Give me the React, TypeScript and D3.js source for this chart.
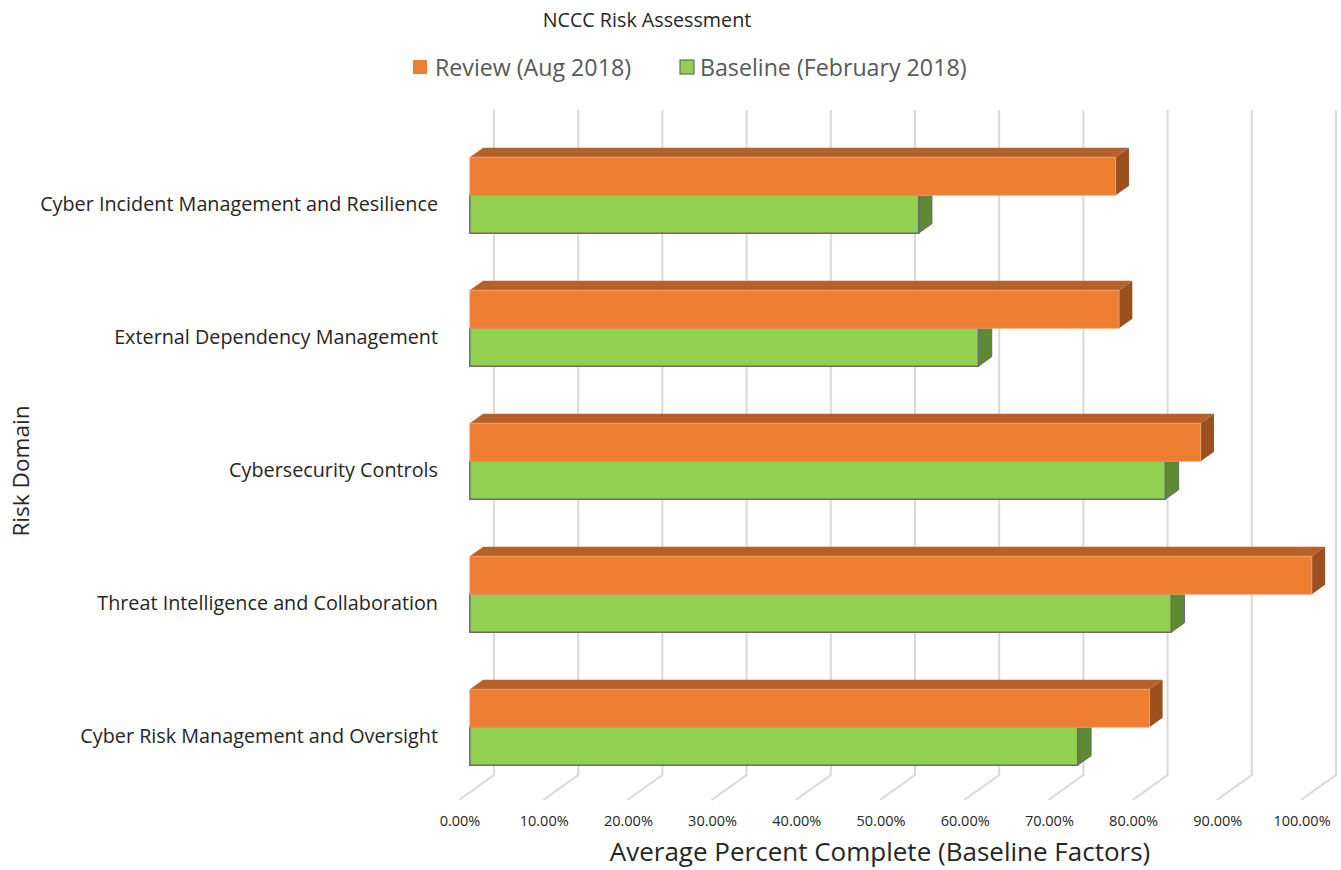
import React from "react";
import * as d3 from "d3";

const categories = [
  "Cyber Incident Management and Resilience",
  "External Dependency Management",
  "Cybersecurity Controls",
  "Threat Intelligence and Collaboration",
  "Cyber Risk Management and Oversight",
];
const reviewValues = [0.767, 0.771, 0.868, 1.0, 0.807];
const baselineValues = [0.533, 0.604, 0.826, 0.833, 0.722];
const seriesNames = ["Review (Aug 2018)", "Baseline (February 2018)"];
const tickValues = [0, 0.1, 0.2, 0.3, 0.4, 0.5, 0.6, 0.7, 0.8, 0.9, 1.0];

const W = 1341;
const H = 870;
const FONT = "'Open Sans', sans-serif";

// oblique 3D depth vector (front floor -> back wall)
const DX = 35;
const DY = -25;
const BAR_FRONT = 0.31;
const BAR_DEPTH = 0.38;

const COLORS = {
  review: { front: "#ED7D31", top: "#B8602A", side: "#9C501F", stroke: "#F4A36C" },
  baseline: { front: "#92D050", top: "#6E9A3C", side: "#5E8A34", stroke: "#6B6B6B" },
};

export default function App() {
  const x = d3.scaleLinear().domain([0, 1]).range([459, 1301]);
  const y = d3.scaleBand<string>().domain(categories).range([135, 800]).paddingInner(0);
  const sub = d3.scaleBand<string>().domain(["review", "baseline"]).range([30, 106]);

  const fx = DX * BAR_FRONT;
  const fy = DY * BAR_FRONT;
  const dx = DX * BAR_DEPTH;
  const dy = DY * BAR_DEPTH;

  const floorBackY = 775;
  const floorFrontY = 800;
  const wallTopY = 110;

  const bar = (key: "review" | "baseline", cat: string, v: number) => {
    const c = COLORS[key];
    const x0 = x(0) + fx;
    const x1 = x(v) + fx;
    const top = (y(cat) as number) + (sub(key) as number) + fy;
    const bottom = top + sub.bandwidth();
    const topFace = `M${x0},${top} L${x0 + dx},${top + dy} L${x1 + dx},${top + dy} L${x1},${top} Z`;
    const sideFace = `M${x1},${top} L${x1 + dx},${top + dy} L${x1 + dx},${bottom + dy} L${x1},${bottom} Z`;
    return (
      <g key={key + cat}>
        <path d={topFace} fill={c.top} stroke={key === "baseline" ? c.stroke : "none"} strokeWidth={1} />
        <path d={sideFace} fill={c.side} stroke={key === "baseline" ? c.stroke : "none"} strokeWidth={1} />
        <rect
          x={x0}
          y={top}
          width={x1 - x0}
          height={bottom - top}
          fill={c.front}
          stroke={c.stroke}
          strokeWidth={key === "baseline" ? 1.5 : 0.8}
        />
      </g>
    );
  };

  return (
    <svg
      width={W}
      height={H}
      style={{ position: "absolute", left: 0, top: 0, background: "#fff" }}
      fontFamily={FONT}
    >
      {/* gridlines on back wall and floor */}
      <g stroke="#D9D9D9" strokeWidth={2} fill="none">
        {tickValues.map((t) => (
          <path
            key={t}
            d={`M${x(t) + DX},${wallTopY} L${x(t) + DX},${floorBackY} L${x(t)},${floorFrontY}`}
          />
        ))}
      </g>

      {/* bars */}
      {categories.map((cat, i) => (
        <g key={cat}>
          {bar("baseline", cat, baselineValues[i])}
          {bar("review", cat, reviewValues[i])}
        </g>
      ))}

      {/* category labels */}
      <g fontSize={19.8} fill="#262626" textAnchor="end">
        {categories.map((cat) => (
          <text key={cat} x={438} y={(y(cat) as number) + y.bandwidth() / 2 + 2} dominantBaseline="central">
            {cat}
          </text>
        ))}
      </g>

      {/* tick labels */}
      <g fontSize={14.5} fill="#262626" textAnchor="middle">
        {tickValues.map((t) => (
          <text key={t} x={x(t) + 1} y={820} dominantBaseline="central">
            {d3.format(".2%")(t)}
          </text>
        ))}
      </g>

      {/* axis titles */}
      <text x={880} y={851} fontSize={26} fill="#262626" textAnchor="middle" dominantBaseline="central">
        Average Percent Complete (Baseline Factors)
      </text>
      <text
        transform={`translate(20,471) rotate(-90)`}
        fontSize={22.6}
        fill="#262626"
        textAnchor="middle"
        dominantBaseline="central"
      >
        Risk Domain
      </text>

      {/* title */}
      <text x={647} y={19} fontSize={19.7} fill="#262626" textAnchor="middle" dominantBaseline="central">
        NCCC Risk Assessment
      </text>

      {/* legend */}
      <g fontSize={23.2} fill="#595959" dominantBaseline="central">
        <rect x={413} y={60} width={14} height={14} fill={COLORS.review.front} />
        <text x={435} y={67}>{seriesNames[0]}</text>
        <rect x={680} y={60} width={14} height={14} fill={COLORS.baseline.front} stroke="#6B6B6B" strokeWidth={1.2} />
        <text x={700} y={67}>{seriesNames[1]}</text>
      </g>
    </svg>
  );
}
